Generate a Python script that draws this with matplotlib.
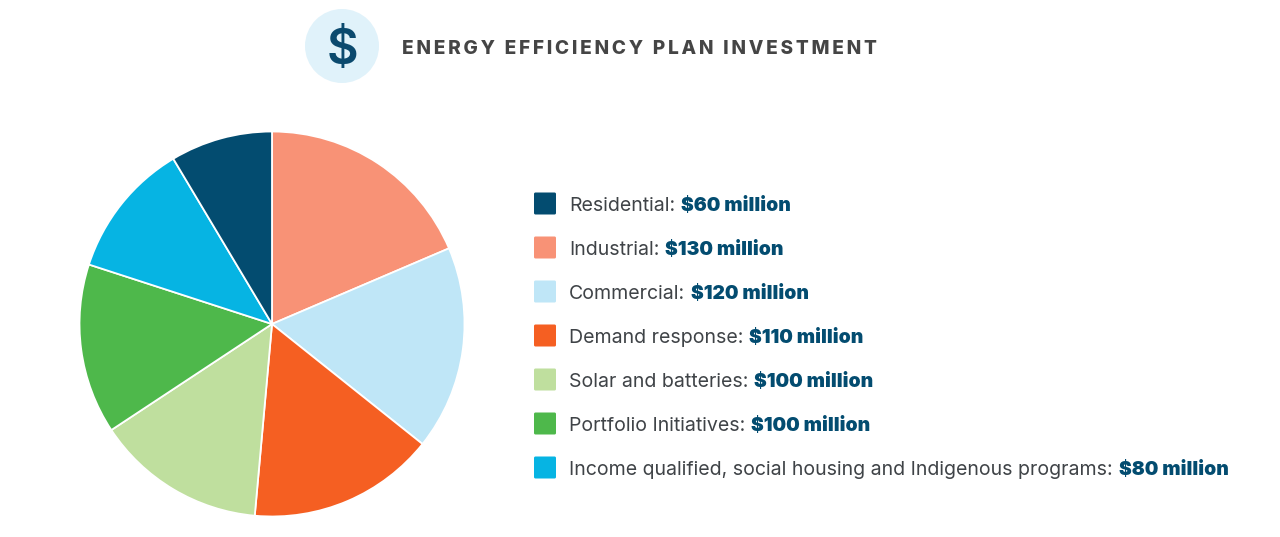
import matplotlib
matplotlib.use("Agg")
import matplotlib.pyplot as plt
from matplotlib.patches import FancyBboxPatch, Circle

W, H = 1280, 537
title = "ENERGY EFFICIENCY PLAN INVESTMENT"
categories = ["Residential", "Industrial", "Commercial", "Demand response",
              "Solar and batteries", "Portfolio Initiatives",
              "Income qualified, social housing and Indigenous programs"]
values = [60, 130, 120, 110, 100, 100, 80]
colors = ["#034c70", "#f89276", "#bfe6f7", "#f55f22", "#bfdf9e", "#4eb84b", "#06b4e3"]
pie_order = [1, 2, 3, 4, 5, 6, 0]

fig = plt.figure(figsize=(W / 100, H / 100), dpi=100, facecolor="white")

# pie, clockwise from 12 o'clock
cx, cy, r = 272, 324, 192.5
ax = fig.add_axes([(cx - r) / W, (H - cy - r) / H, 2 * r / W, 2 * r / H])
ax.pie([values[i] for i in pie_order], colors=[colors[i] for i in pie_order],
       startangle=90, counterclock=False, radius=1,
       wedgeprops=dict(edgecolor="white", linewidth=1.3))
ax.set_xlim(-1, 1)
ax.set_ylim(-1, 1)
ax.set_aspect("equal")
ax.axis("off")

# overlay in pixels
ov = fig.add_axes([0, 0, 1, 1], zorder=3)
ov.set_xlim(0, W)
ov.set_ylim(H, 0)
ov.axis("off")
ov.patch.set_alpha(0)

ov.add_patch(Circle((342, 46), 37, facecolor="#e0f2fa", edgecolor="none"))
ov.text(342, 64, "$", fontsize=35, family="Inter", weight="semibold", color="#0b4a6e",
        ha="center", va="baseline")
ov.text(402, 53.5, "\u200a\u200a".join(title), fontsize=13.7, family="Inter", weight="heavy",
        color="#454545", ha="left", va="baseline")

fig.canvas.draw()
renderer = fig.canvas.get_renderer()
for k, (c, v, col) in enumerate(zip(categories, values, colors)):
    y = 203.5 + 44 * k
    ov.add_patch(FancyBboxPatch((534, y - 11), 22, 22,
                                boxstyle="round,pad=0,rounding_size=1.5",
                                facecolor=col, edgecolor="none"))
    t = ov.text(569, y + 7.6, c + ":", fontsize=14.05, family="Inter", color="#3f4347",
                ha="left", va="baseline")
    bb = t.get_window_extent(renderer)
    ov.text(bb.x1 + 6, y + 7.6, f"${v} million", fontsize=13.9, family="Inter", weight="black",
            color="#034c70", ha="left", va="baseline")

fig.savefig("out.png", dpi=100, facecolor="white")
